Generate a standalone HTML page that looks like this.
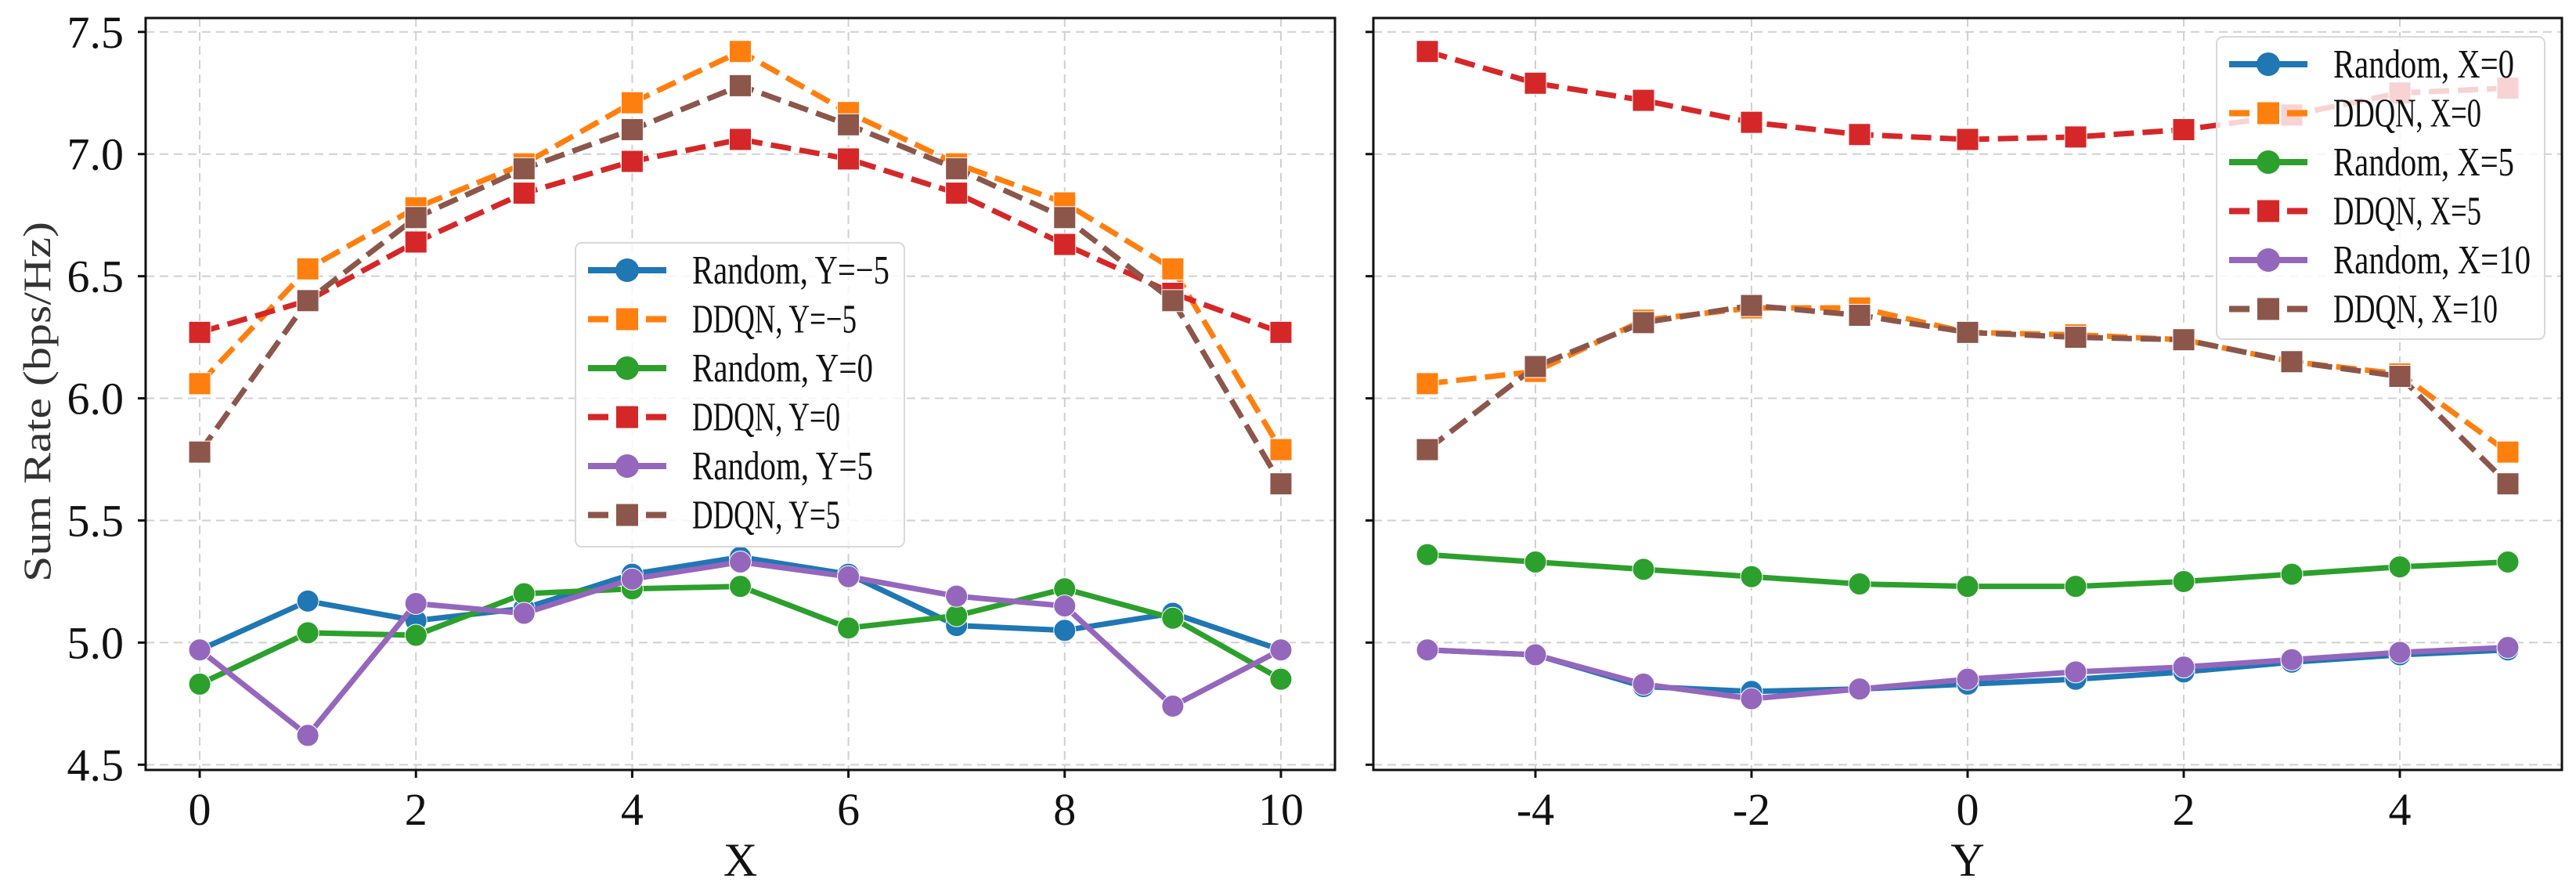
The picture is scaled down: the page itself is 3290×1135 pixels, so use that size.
<!DOCTYPE html>
<html><head><meta charset="utf-8"><style>
html,body{margin:0;padding:0;background:#fff;}
svg{display:block;}
</style></head><body>
<svg id="chart" xmlns="http://www.w3.org/2000/svg" width="3290" height="1135" viewBox="0 0 3290 1135">
<rect width="3290" height="1135" fill="#fff"/>
</svg>
<script>
const leftX = [0,1,2,3,4,5,6,7,8,9,10];
const rightY = [-5,-4,-3,-2,-1,0,1,2,3,4,5];
const leftRandomYm5 = [4.97,5.17,5.09,5.14,5.28,5.35,5.28,5.07,5.05,5.12,4.97];
const leftDdqnYm5   = [6.06,6.53,6.78,6.96,7.21,7.42,7.17,6.96,6.80,6.53,5.79];
const leftRandomY0  = [4.83,5.04,5.03,5.20,5.22,5.23,5.06,5.11,5.22,5.10,4.85];
const leftDdqnY0    = [6.27,6.40,6.64,6.84,6.97,7.06,6.98,6.84,6.63,6.43,6.27];
const leftRandomY5  = [4.97,4.62,5.16,5.12,5.26,5.33,5.27,5.19,5.15,4.74,4.97];
const leftDdqnY5    = [5.78,6.40,6.74,6.94,7.10,7.28,7.12,6.94,6.74,6.40,5.65];
const rightRandomX0  = [4.97,4.95,4.82,4.80,4.81,4.83,4.85,4.88,4.92,4.95,4.97];
const rightDdqnX0    = [6.06,6.11,6.32,6.37,6.37,6.27,6.26,6.24,6.15,6.10,5.78];
const rightRandomX5  = [5.36,5.33,5.30,5.27,5.24,5.23,5.23,5.25,5.28,5.31,5.33];
const rightDdqnX5    = [7.42,7.29,7.22,7.13,7.08,7.06,7.07,7.10,7.16,7.25,7.27];
const rightRandomX10 = [4.97,4.95,4.83,4.77,4.81,4.85,4.88,4.90,4.93,4.96,4.98];
const rightDdqnX10   = [5.79,6.13,6.31,6.38,6.34,6.27,6.25,6.24,6.15,6.09,5.65];
const yTicks = [4.5,5.0,5.5,6.0,6.5,7.0,7.5];
const yTickLabels = ["4.5","5.0","5.5","6.0","6.5","7.0","7.5"];
const leftXTicks = [0,2,4,6,8,10];
const rightXTicks = [-4,-2,0,2,4];
const leftLabels = ["Random, Y=\u22125","DDQN, Y=\u22125","Random, Y=0","DDQN, Y=0","Random, Y=5","DDQN, Y=5"];
const rightLabels = ["Random, X=0","DDQN, X=0","Random, X=5","DDQN, X=5","Random, X=10","DDQN, X=10"];

const NS="http://www.w3.org/2000/svg";
const svg=document.getElementById('chart');
function mk(tag,attrs,parent){const e=document.createElementNS(NS,tag);for(const k in attrs)e.setAttribute(k,attrs[k]);(parent||svg).appendChild(e);return e;}
const colors=['#1f77b4','#ff7f0e','#2ca02c','#d62728','#9467bd','#8c564b'];
const yMin=4.4786, yMax=7.557, plotTop=23, plotBot=983;
function sy(v){return plotBot-(v-yMin)/(yMax-yMin)*(plotBot-plotTop);}

function panel(name,x0,x1,dmin,dmax,xs,series,xticks,labels,xlabel,showY,legend){
  const g=mk('g',{});
  
  
  const sx=v=>x0+(v-dmin)/(dmax-dmin)*(x1-x0);
  xticks.forEach(t=>{const l=mk('line',{x1:sx(t),x2:sx(t),y1:plotTop,y2:plotBot,stroke:'#d0d0d0','stroke-width':2,'stroke-dasharray':'11 7'},g);
    
    });
  yTicks.forEach(t=>{const l=mk('line',{x1:x0,x2:x1,y1:sy(t),y2:sy(t),stroke:'#d0d0d0','stroke-width':2,'stroke-dasharray':'11 7'},g);
    
    });
  series.forEach((vals,i)=>{
    const dashed=i%2===1;
    const pts=vals.map((v,j)=>sx(xs[j])+','+sy(v)).join(' ');
    const pl=mk('polyline',{points:pts,fill:'none',stroke:colors[i],'stroke-width':7,'stroke-linejoin':'round','stroke-dasharray':dashed?'26 11':'none'},g);
    
    
    vals.forEach((v,j)=>{
      let m;
      if(dashed){m=mk('rect',{x:sx(xs[j])-14,y:sy(v)-14,width:28,height:28,fill:colors[i],stroke:'#fff','stroke-width':1},g);}
      else{m=mk('circle',{cx:sx(xs[j]),cy:sy(v),r:14,fill:colors[i],stroke:'#fff','stroke-width':1},g);}
      
      
    });
  });
  const fr=mk('rect',{x:x0,y:plotTop,width:x1-x0,height:plotBot-plotTop,fill:'none',stroke:'#111','stroke-width':3},g);
  
  
  yTicks.forEach((t,k)=>{mk('line',{x1:x0-10,x2:x0,y1:sy(t),y2:sy(t),stroke:'#111','stroke-width':3},g);
    if(showY){const tx=mk('text',{x:x0-28,y:sy(t)+20,'text-anchor':'end','font-family':'Liberation Serif, serif','font-size':58,fill:'#111'},g);
      tx.textContent=yTickLabels[k];
      
      }});
  xticks.forEach(t=>{mk('line',{x1:sx(t),x2:sx(t),y1:plotBot,y2:plotBot+10,stroke:'#111','stroke-width':3},g);
    const tx=mk('text',{x:sx(t),y:plotBot+70,'text-anchor':'middle','font-family':'Liberation Serif, serif','font-size':58,fill:'#111'},g);
    tx.textContent=String(t);
    
    });
  const xl=mk('text',{x:(x0+x1)/2,y:1118,'text-anchor':'middle','font-family':'Liberation Serif, serif','font-size':60,fill:'#111'},g);
  xl.textContent=xlabel;
  
  
  const lg=mk('g',{},g);
  
  
  mk('rect',{x:legend.x,y:legend.y,width:legend.w,height:legend.h,rx:8,fill:'rgba(255,255,255,0.8)',stroke:'#d8d8d8','stroke-width':2},lg);
  labels.forEach((lab,i)=>{
    const cy=legend.y+35+i*62.5, hx=legend.x+16;
    const dashed=i%2===1;
    const e=mk('g',{},lg);
    
    
    mk('line',{x1:hx,x2:hx+100,y1:cy,y2:cy,stroke:colors[i],'stroke-width':8,'stroke-dasharray':dashed?'26 11':'none'},e);
    if(dashed)mk('rect',{x:hx+36,y:cy-14,width:28,height:28,fill:colors[i]},e);
    else mk('circle',{cx:hx+50,cy:cy,r:15,fill:colors[i]},e);
    const t=mk('text',{x:legend.x+149,y:cy+17,'font-family':'Liberation Serif, serif','font-size':52,fill:'#111',textLength:lab.length*21,lengthAdjust:'spacingAndGlyphs'},e);
    t.textContent=lab;
  });
}
panel('left-panel',186,1705,-0.5,10.5,leftX,[leftRandomYm5,leftDdqnYm5,leftRandomY0,leftDdqnY0,leftRandomY5,leftDdqnY5],leftXTicks,leftLabels,'X',true,{x:735,y:310,w:420,h:388});
panel('right-panel',1754,3272,-5.5,5.5,rightY,[rightRandomX0,rightDdqnX0,rightRandomX5,rightDdqnX5,rightRandomX10,rightDdqnX10],rightXTicks,rightLabels,'Y',false,{x:2831,y:47,w:419,h:386});
const yl=mk('text',{x:0,y:0,'text-anchor':'middle','font-family':'Liberation Serif, serif','font-size':50,fill:'#333',transform:'translate(64,513) rotate(-90)',textLength:460,lengthAdjust:'spacingAndGlyphs'});
yl.textContent='Sum Rate (bps/Hz)';


</script>
</body></html>
